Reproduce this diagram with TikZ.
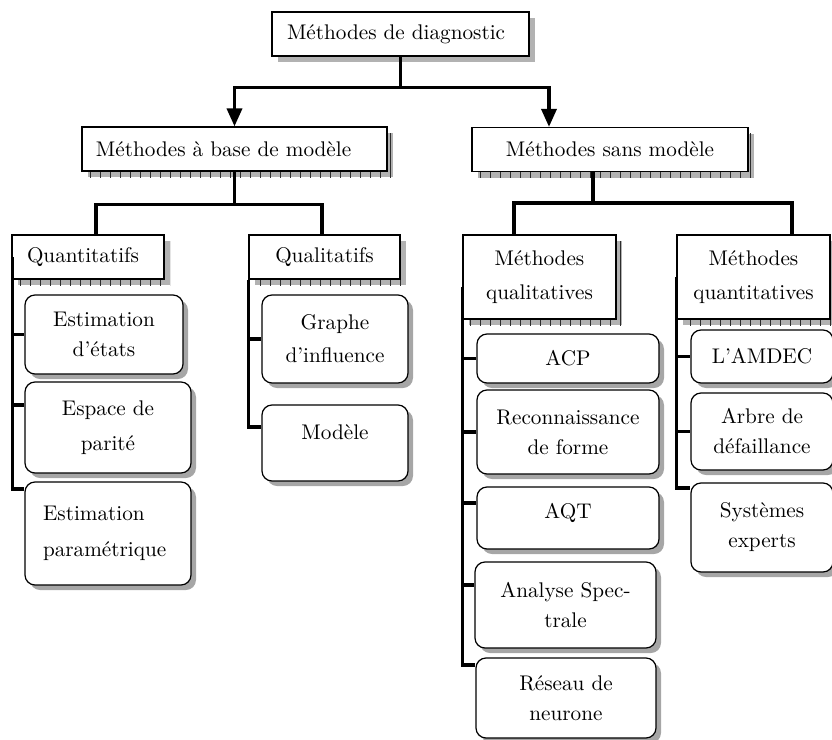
\documentclass[tikz,border=0pt]{standalone}
\usetikzlibrary{shadows,patterns.meta,arrows.meta}

\begin{document}
\begin{tikzpicture}[x=0.5pt,y=-0.5pt]
\def\W{1.75pt}
\colorlet{shadow color}{gray!60}
\colorlet{tick color}{gray!35!black}
\tikzset{
  every node/.style={font=\fontsize{10.6pt}{15pt}\selectfont},
  tree/.style={line width=\W,draw},
  tree arrow/.style={->,>={Triangle[length=9pt,width=7.5pt]},line width=\W,draw},
  root/.style={draw,line width=0.6pt,fill=white,inner xsep=7.5pt,align=left,
    general shadow={shadow xshift=3pt,shadow yshift=-3pt,fill=shadow color}},
  family/.style={draw,line width=0.6pt,fill=white,align=center,
    general shadow={shadow xshift=3pt,shadow yshift=-3pt,fill=shadow color},
    general shadow={shadow xshift=3pt,shadow yshift=-3pt,
      pattern={Lines[angle=90,distance=5pt,line width=0.35pt]},pattern color=tick color}},
  method/.style={draw,line width=0.6pt,fill=white,rounded corners=5pt,align=center,
    general shadow={shadow xshift=2.5pt,shadow yshift=-2.5pt,fill=gray!70}},
  box size/.style 2 args={minimum width=#1,minimum height=#2}
}
\useasboundingbox (0,0) rectangle (832,740);

%ROOT
\node[root,box size={128.5pt}{22pt},text width=113.5pt] (diag) at (400.5,34) {Méthodes de diagnostic};

%FAMILIES
\node[family,box size={152.5pt}{22pt},align=left,inner xsep=7pt,text width=138.5pt] (mbm) at (234.5,149) {Méthodes à base de modèle};
\node[family,box size={138pt}{22pt}] (msm) at (610,149.5) {Méthodes sans modèle};

\node[family,box size={76pt}{22pt},align=left,inner xsep=7.5pt,text width=61pt] (quanti) at (88,257) {Quantitatifs};
\node[family,box size={75.5pt}{22pt}] (quali) at (324.5,257) {Qualitatifs};
\node[family,box size={76.5pt}{42pt},font=\fontsize{10.6pt}{17pt}\selectfont] (mqual) at (539.5,277) {Méthodes\\qualitatives};
\node[family,box size={76.5pt}{42pt},font=\fontsize{10.6pt}{17pt}\selectfont] (mquant) at (753.5,277) {Méthodes\\quantitatives};

%METHODS - MODEL BASED
\node[method,box size={79pt}{39.5pt}] (etat) at (104,334.5) {Estimation\\d'états};
\node[method,box size={83pt}{45.5pt},font=\fontsize{10.6pt}{17.5pt}\selectfont] (parite) at (108,427.5) {Espace de\\parité};
\node[method,box size={83pt}{51.5pt},align=left,inner xsep=9pt,text width=65pt,font=\fontsize{10.6pt}{18pt}\selectfont] (param) at (108,533.5) {Estimation\\paramétrique};
\node[method,box size={73pt}{44pt},font=\fontsize{10.6pt}{16.5pt}\selectfont] (graphe) at (335,339) {Graphe\\d'influence};
\node[method,box size={73pt}{38pt},text depth=11pt] (modele) at (335,443) {Modèle};

%METHODS - WITHOUT MODEL
\node[method,box size={91pt}{24.5pt}] (acp) at (568,358.5) {ACP};
\node[method,box size={91pt}{42pt}] (reconn) at (568,432) {Reconnaissance\\de forme};
\node[method,box size={91pt}{31pt},text depth=7pt] (aqt) at (568,518) {AQT};
\node[method,box size={90.5pt}{43pt}] (analyse) at (565.5,605) {Analyse Spec-\\trale};
\node[method,box size={90pt}{40pt}] (reseau) at (566,698) {Réseau de\\neurone};
\node[method,box size={71pt}{26.5pt}] (amdec) at (762,356.5) {L'AMDEC};
\node[method,box size={71pt}{38.5pt}] (arbre) at (762,431.5) {Arbre de\\défaillance};
\node[method,box size={71pt}{44.5pt}] (syst) at (762,527.5) {Systèmes\\experts};

%PATHS
\coordinate (split) at ([yshift=-15.5pt]diag.south);
\draw[tree] (diag.south) -- (split);
\draw[tree arrow] (split) -| (mbm.north);
\draw[tree arrow] (split) -| ([xshift=-30.5pt]msm.north);

%%model based
\coordinate (split mbm) at ([yshift=-16.5pt]mbm.south);
\draw[tree] (mbm.south) -- (split mbm);
\draw[tree] (split mbm) -| ([xshift=4pt]quanti.north);
\draw[tree] (split mbm) -| ([xshift=-1.25pt]quali.north);

\draw[tree] ([xshift=0.5pt]quanti.west) |- ([yshift=22.25pt]param.west);
\draw[tree] (quanti.west |- etat.west) -- (etat.west);
\draw[tree] ([yshift=11.25pt]parite.west -| quanti.west) -- ([yshift=11.25pt]parite.west);

\draw[tree] (quali.south west) |- ([yshift=8pt]modele.west);
\draw[tree] (quali.west |- graphe.west) -- (graphe.west);

%%without model
\coordinate (split msm) at ([xshift=-8.5pt,yshift=-15.5pt]msm.south);
\draw[tree] ([xshift=-8.5pt]msm.south) -- (split msm);
\draw[tree] (split msm) -| ([xshift=-12.75pt]mqual.north);
\draw[tree] (split msm) -| ([xshift=19.25pt]mquant.north);

\draw[tree] ([yshift=-5pt]mqual.west) |- ([yshift=16.5pt]reseau.west);
\draw[tree] (mqual.west |- acp.west) -- (acp.west);
\draw[tree] (mqual.west |- reconn.west) -- (reconn.west);
\draw[tree] ([yshift=7.5pt]aqt.west -| mqual.west) -- ([yshift=7.5pt]aqt.west);
\draw[tree] ([yshift=10pt]analyse.west -| mqual.west) -- ([yshift=10pt]analyse.west);

\draw[tree] (mquant.west) |- ([yshift=19.75pt]syst.west);
\draw[tree] (mquant.west |- amdec.west) -- (amdec.west);
\draw[tree] (mquant.west |- arbre.west) -- (arbre.west);

\end{tikzpicture}
\end{document}
